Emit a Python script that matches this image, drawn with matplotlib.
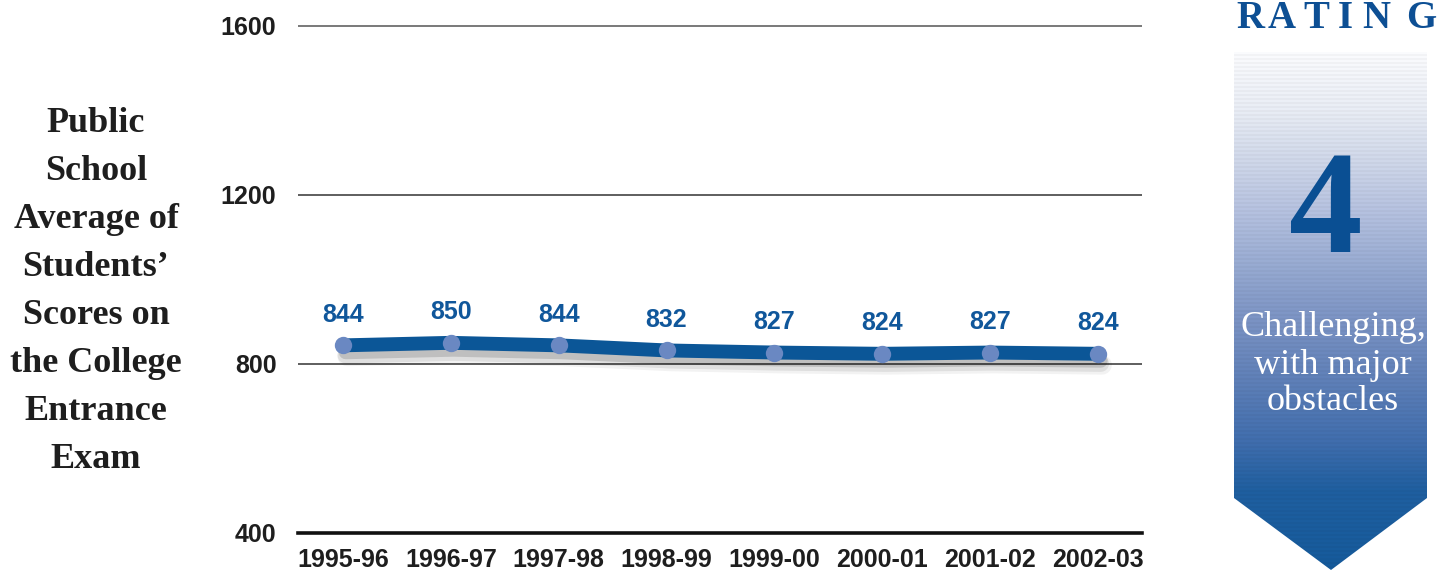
import numpy as np
import matplotlib.pyplot as plt
from matplotlib import patheffects
from matplotlib.patches import Polygon

years = ["1995-96", "1996-97", "1997-98", "1998-99",
         "1999-00", "2000-01", "2001-02", "2002-03"]
scores = [844, 850, 844, 832, 827, 824, 827, 824]
y_ticks = [400, 800, 1200, 1600]
ylabel_lines = ["Public", "School", "Average of", "Students\u2019",
                "Scores on", "the College", "Entrance", "Exam"]
rating = "4"
rating_text = ["Challenging,", "with major", "obstacles"]

sans = ["Liberation Sans", "DejaVu Sans"]
serif = ["Liberation Serif", "DejaVu Serif"]
blue = "#0b5697"
dark = "#1e1e1e"

W, H = 1451, 573
fig = plt.figure(figsize=(W / 100, H / 100), dpi=100)

# main chart
ax = fig.add_axes([298 / W, 1 - 533 / H, (1142 - 298) / W, (533 - 25) / H])
x = np.arange(len(years))
ax.set_xlim(-0.417, 7.408)
ax.set_ylim(400, 1602)
ax.set_yticks(y_ticks)
ax.set_xticks(x)
ax.set_xticklabels(years)
for t in ax.get_xticklabels() + ax.get_yticklabels():
    t.set_family(sans)
    t.set_fontweight("bold")
    t.set_fontsize(18)
    t.set_color(dark)
ax.tick_params(length=0)
ax.tick_params(axis="x", pad=10.5)
ax.tick_params(axis="y", pad=15.5)
for s in ["top", "right", "left"]:
    ax.spines[s].set_visible(False)
ax.spines["bottom"].set_linewidth(2.6)
ax.spines["bottom"].set_color("#111111")
for v in y_ticks[1:]:
    ax.axhline(v, color="#333333" if v < 1600 else "#555555", lw=1.1, zorder=1)

shadow = [
    patheffects.SimpleLineShadow(offset=(3, -8), shadow_color="k", alpha=0.05, linewidth=14),
    patheffects.SimpleLineShadow(offset=(2, -7), shadow_color="k", alpha=0.08, linewidth=12),
    patheffects.SimpleLineShadow(offset=(2, -5), shadow_color="k", alpha=0.14, linewidth=10),
    patheffects.Normal(),
]
ax.plot(x, scores, color=blue, lw=10, solid_capstyle="round",
        path_effects=shadow, zorder=3)
ax.plot(x, scores, "o", ls="none", color="#6a88c2", ms=12.5, mec="none", zorder=4)

for xi, v in zip(x, scores):
    ax.annotate(str(v), (xi, v), xytext=(0, 22), textcoords="offset points",
                ha="center", va="center", fontsize=18, fontweight="bold",
                family=sans, color="#10579b", zorder=5)

# overlay in pixel coordinates for side labels and the rating ribbon
ov = fig.add_axes([0, 0, 1, 1])
ov.set_xlim(0, W)
ov.set_ylim(H, 0)
ov.axis("off")
ov.patch.set_visible(False)

for i, line in enumerate(ylabel_lines):
    ov.text(96, 124 + i * 48, line, ha="center", va="center", fontsize=26,
            fontweight="bold", family=serif, color=dark)

letters = "RATING"
letter_x = [1250, 1282, 1316, 1345, 1376, 1421]
for ch, lx in zip(letters, letter_x):
    ov.text(lx, 18, ch, ha="center", va="center", fontsize=28,
            fontweight="bold", family=serif, color="#0d4f94")

# ribbon gradient
stops_y = [52, 110, 160, 210, 265, 320, 380, 440, 490, 572]
stops_c = ["#fbfcfe", "#e9edf5", "#d0d8ea", "#b6c2e0", "#98abd2",
           "#7b93c4", "#5f80b8", "#416eae", "#1f5fa0", "#155a9b"]
rows = np.arange(52, 573)
rgb = np.array([[int(c[i:i + 2], 16) / 255 for i in (1, 3, 5)] for c in stops_c])
grad = np.stack([np.interp(rows, stops_y, rgb[:, k]) for k in range(3)], axis=1)
stripe = np.where((rows // 2) % 2 == 0, 1.0, 0.97)
grad = np.clip(grad * stripe[:, None], 0, 1)
img = np.repeat(grad[:, None, :], 2, axis=1)
ribbon = Polygon([(1234, 52), (1427, 52), (1427, 498), (1331, 570), (1234, 498)],
                 closed=True, facecolor="none", edgecolor="none")
ov.add_patch(ribbon)
im = ov.imshow(img, extent=(1234, 1427, 573, 52), aspect="auto",
               interpolation="bilinear", zorder=1)
im.set_clip_path(ribbon)

ov.text(1326, 216, rating, ha="center", va="center", fontsize=106,
        fontweight="bold", family=serif, color="#0a4f93", zorder=2)
for i, line in enumerate(rating_text):
    ov.text(1333, 328 + i * 37, line, ha="center", va="center", fontsize=26,
            family=serif, color="white", zorder=2)

fig.savefig("out.png", dpi=100)
